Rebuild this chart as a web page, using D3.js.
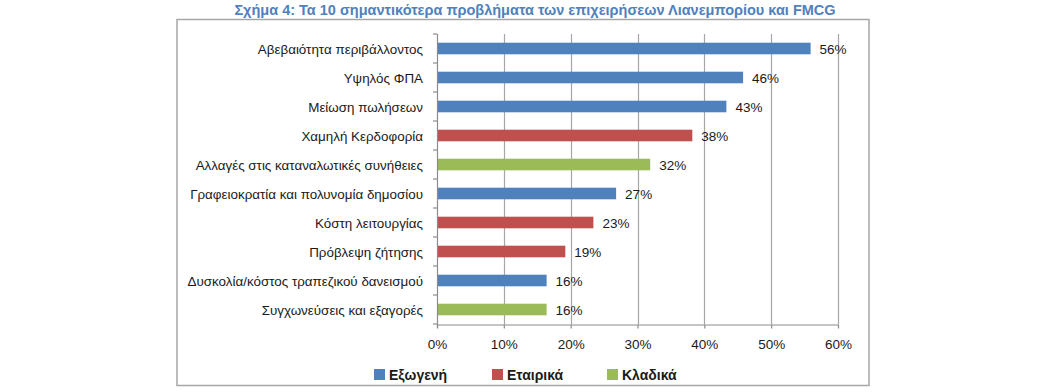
<!DOCTYPE html>
<html>
<head>
<meta charset="utf-8">
<script src="https://cdn.jsdelivr.net/npm/d3@7"></script>
<style>
body { margin:0; background:#fff; }
text { font-family: "Liberation Sans", Arial, sans-serif; }
</style>
</head>
<body>
<div id="chart"></div>
<script>
// data
var categories = ["Αβεβαιότητα περιβάλλοντος", "Υψηλός ΦΠΑ", "Μείωση πωλήσεων", "Χαμηλή Κερδοφορία",
    "Αλλαγές στις καταναλωτικές συνήθειες", "Γραφειοκρατία και πολυνομία δημοσίου", "Κόστη λειτουργίας",
    "Πρόβλεψη ζήτησης", "Δυσκολία/κόστος τραπεζικού δανεισμού", "Συγχωνεύσεις και εξαγορές"]
var values = [55.9, 45.8, 43.3, 38.2, 31.9, 26.8, 23.4, 19.2, 16.4, 16.4]
var groups = ["Εξωγενή", "Εξωγενή", "Εξωγενή", "Εταιρικά", "Κλαδικά", "Εξωγενή", "Εταιρικά", "Εταιρικά", "Εξωγενή", "Κλαδικά"]
var legendNames = ["Εξωγενή", "Εταιρικά", "Κλαδικά"]
var xTicks = [0, 10, 20, 30, 40, 50, 60]
var title = "Σχήμα 4: Τα 10 σημαντικότερα προβλήματα των επιχειρήσεων Λιανεμπορίου και FMCG"

var W = 1050, H = 392;
var plot = {left:437, right:838, top:34, bottom:324};

var svg = d3.select("#chart").append("svg")
    .attr("width", W).attr("height", H);

var color = d3.scaleOrdinal()
    .domain(legendNames)
    .range(["#4F81BD", "#C0504D", "#9BBB59"]);

var x = d3.scaleLinear().domain([0, 60]).range([plot.left, plot.right]);
var y = d3.scaleBand().domain(categories).range([plot.top, plot.bottom])
    .paddingInner(0.6).paddingOuter(0.3);

// title
svg.append("text")
    .attr("x", 535).attr("y", 15)
    .attr("text-anchor", "middle")
    .style("font-size", "14.5px").style("font-weight", "bold")
    .style("fill", "#4F81BD")
    .text(title);

// outer frame
svg.append("rect")
    .attr("x", 177).attr("y", 19.5)
    .attr("width", 692).attr("height", 366)
    .attr("fill", "none").attr("stroke", "#A6A6A6").attr("stroke-width", 1.5);

// gridlines
svg.append("g").selectAll("line")
    .data(xTicks.slice(1))
    .enter().append("line")
    .attr("x1", function(d){ return Math.round(x(d)) + 0.5 })
    .attr("x2", function(d){ return Math.round(x(d)) + 0.5 })
    .attr("y1", plot.top).attr("y2", plot.bottom)
    .attr("stroke", "#A6A6A6").attr("stroke-width", 1.2);

// bars
svg.append("g").selectAll("rect")
    .data(categories)
    .enter().append("rect")
    .attr("x", x(0))
    .attr("y", function(d){ return y(d) })
    .attr("width", function(d, i){ return x(values[i]) - x(0) })
    .attr("height", y.bandwidth())
    .attr("fill", function(d, i){ return color(groups[i]) });

// value labels
svg.append("g").selectAll("text")
    .data(categories)
    .enter().append("text")
    .attr("x", function(d, i){ return x(values[i]) + 9 })
    .attr("y", function(d){ return y(d) + y.bandwidth()/2 + 5 })
    .style("font-size", "13.5px").style("fill", "#1a1a1a")
    .text(function(d, i){ return Math.round(values[i]) + "%" });

// y axis line and ticks at band edges
var axisColor = "#8C8C8C";
svg.append("line")
    .attr("x1", plot.left + 0.5).attr("x2", plot.left + 0.5)
    .attr("y1", plot.top).attr("y2", plot.bottom + 4)
    .attr("stroke", axisColor).attr("stroke-width", 1.2);
svg.append("g").selectAll("line")
    .data(d3.range(categories.length + 1))
    .enter().append("line")
    .attr("x1", plot.left - 4).attr("x2", plot.left)
    .attr("y1", function(i){ return plot.top + i * y.step() })
    .attr("y2", function(i){ return plot.top + i * y.step() })
    .attr("stroke", axisColor).attr("stroke-width", 1.2);

// category labels
svg.append("g").selectAll("text")
    .data(categories)
    .enter().append("text")
    .attr("x", plot.left - 14)
    .attr("y", function(d){ return y(d) + y.bandwidth()/2 + 5 })
    .attr("text-anchor", "end")
    .style("font-size", "13.4px").style("fill", "#1a1a1a")
    .text(function(d){ return d });

// x axis
var xAxis = svg.append("g")
    .attr("transform", "translate(0," + (plot.bottom + 0.5) + ")")
    .call(d3.axisBottom(x).tickValues(xTicks).tickSize(4).tickSizeOuter(0)
        .tickFormat(function(d){ return d + "%" }));
xAxis.select(".domain").attr("stroke", axisColor).attr("stroke-width", 1.2);
xAxis.selectAll(".tick line").attr("stroke", axisColor).attr("stroke-width", 1.2);
xAxis.selectAll(".tick text")
    .attr("y", 15)
    .style("font-size", "13.5px").style("fill", "#1a1a1a")
    .style("font-family", "'Liberation Sans', Arial, sans-serif");

// legend
var legendX = [374, 492, 607];
var legend = svg.append("g").selectAll("g")
    .data(legendNames)
    .enter().append("g")
    .attr("transform", function(d, i){ return "translate(" + legendX[i] + ",369)" });
legend.append("rect")
    .attr("width", 11).attr("height", 11)
    .attr("fill", function(d){ return color(d) });
legend.append("text")
    .attr("x", 15).attr("y", 11)
    .style("font-size", "14px").style("font-weight", "bold").style("fill", "#1a1a1a")
    .text(function(d){ return d });
</script>
</body>
</html>
